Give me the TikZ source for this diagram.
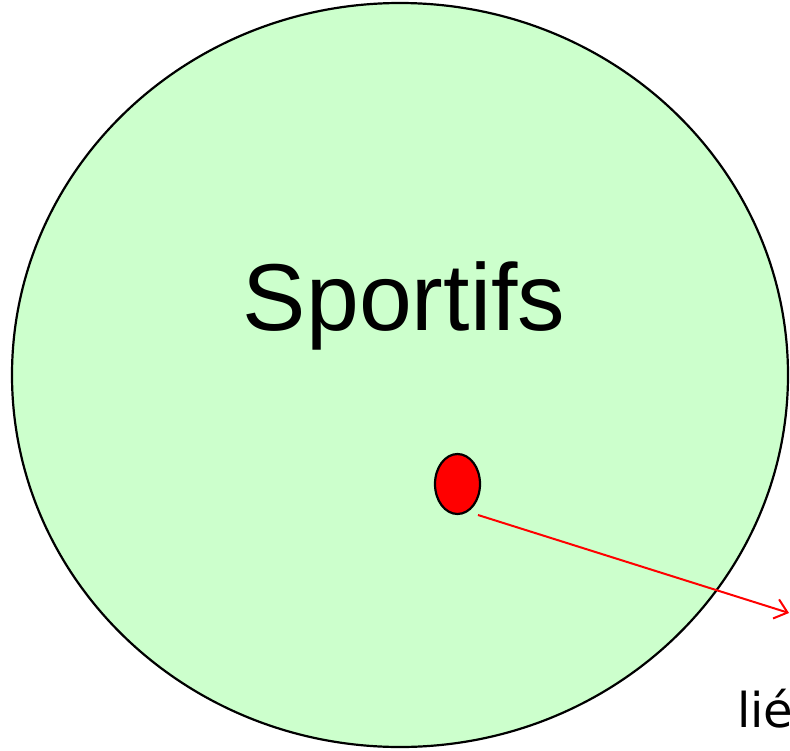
\documentclass[tikz,border=0pt]{standalone}
\usepackage{fontspec}
\setmainfont{Liberation Sans}
\newfontfamily\liefont{DejaVu Sans}
\usetikzlibrary{arrows.meta}
\definecolor{setgreen}{HTML}{CCFFCC}
\tikzset{
  setshape/.style={draw=black, line width=2.2pt, fill=setgreen},
  elemdot/.style={draw=black, line width=2.2pt, fill=red},
  linkarrow/.style={draw=red, line width=2pt, -{Straight Barb[length=12pt,width=20pt,line width=2pt]}},
}
\begin{document}
\begin{tikzpicture}[x=1pt,y=-1pt]
\useasboundingbox (0,0) rectangle (790,750);
\clip (0,0) rectangle (790,750);
\path[setshape] (400,375) ellipse [x radius=388, y radius=372];
\node[anchor=base, inner sep=0pt, font=\fontsize{95}{110}\selectfont] (label) at (404,330) {Sportifs};
\path[elemdot] (457.5,484) ellipse [x radius=22.5, y radius=30];
\coordinate (dot) at (478,515);
\coordinate (tip) at (789,613);
\draw[linkarrow] (dot) -- (tip);
\node[anchor=base west, inner sep=0pt, font=\liefont\fontsize{48}{58}\selectfont] (lie) at (737,727) {lié};
\end{tikzpicture}
\end{document}
